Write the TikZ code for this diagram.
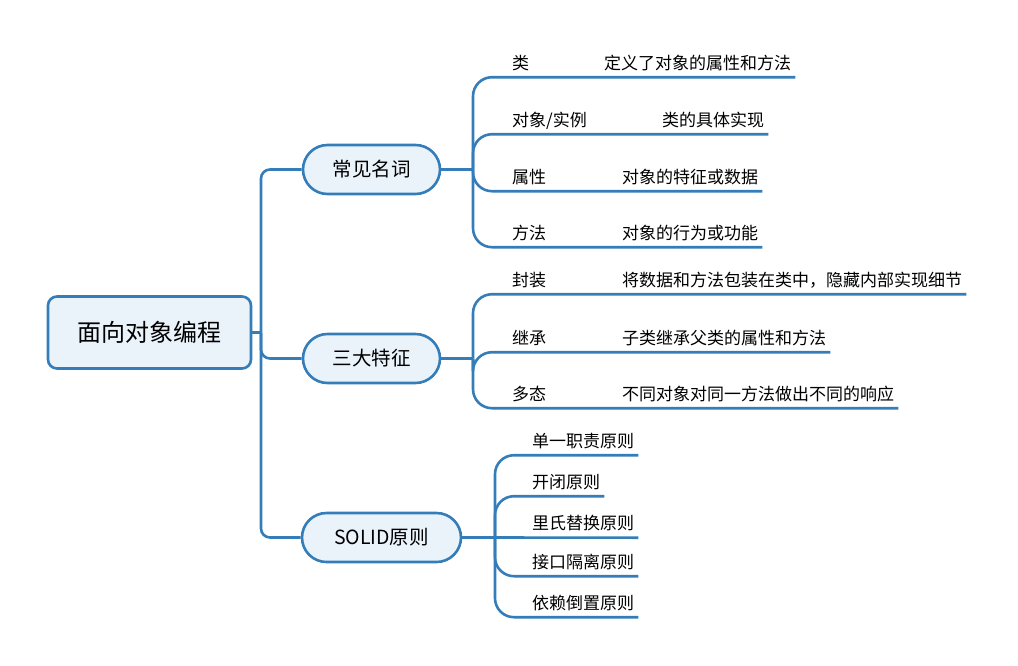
\documentclass[tikz,border=0pt]{standalone}
\usepackage{fontspec}
\setmainfont{Noto Sans CJK SC}
\usetikzlibrary{calc, positioning, shapes.misc}

\definecolor{mapblue}{RGB}{52,125,185}
\definecolor{mapfill}{RGB}{234,242,250}

\begin{document}
\begin{tikzpicture}[
            x=1pt, y=-1pt, % one unit = one pixel, y downwards
            root_style/.style={draw=mapblue, fill=mapfill, line width=2.6pt, rounded corners=9pt, minimum width=203pt, minimum height=72pt, font=\fontsize{24}{28}\selectfont},
            topic_style/.style={rounded rectangle, draw=mapblue, fill=mapfill, line width=2.6pt, minimum height=49pt, inner xsep=10pt, font=\fontsize{19.5}{23}\selectfont},
            leaf_style/.style={anchor=base west, inner xsep=4pt, inner ysep=6pt, text depth=2pt, font=\fontsize{17}{20}\selectfont},
            edge_style/.style={draw=mapblue, line width=2.6pt},
            trunk_style/.style={edge_style, rounded corners=9pt},
            twig_style/.style={edge_style, rounded corners=19pt}
        ]
        \useasboundingbox (0,0) rectangle (1018,665);

        % Root and the three topics
        \node[root_style] (root) at (149.5,332.5) {面向对象编程};
        \node[topic_style, minimum width=157pt] (terms) at (371.5,169.5) {常见名词};
        \node[topic_style, minimum width=157pt] (traits) at (371.5,358.5) {三大特征};
        \node[topic_style, minimum width=179pt] (solid) at (381.5,537.5) {SOLID原则};

        % Junctions on the trunks
        \coordinate (jr) at (261,332.5);
        \coordinate (j1) at (473,169.5);
        \coordinate (j2) at (473,358.5);
        \coordinate (j3) at (495,537.5);

        % Leaves of 常见名词
        \node[leaf_style] (t1) at (508,69) {类};
        \node[leaf_style] (t1d) at (600,69) {定义了对象的属性和方法};
        \node[leaf_style] (t2) at (508,126) {对象/实例};
        \node[leaf_style] (t2d) at (658,126) {类的具体实现};
        \node[leaf_style] (t3) at (508,183) {属性};
        \node[leaf_style] (t3d) at (618,183) {对象的特征或数据};
        \node[leaf_style] (t4) at (508,239) {方法};
        \node[leaf_style] (t4d) at (618,239) {对象的行为或功能};

        % Leaves of 三大特征
        \node[leaf_style] (f1) at (508,286) {封装};
        \node[leaf_style] (f1d) at (618,286) {将数据和方法包装在类中，隐藏内部实现细节};
        \node[leaf_style] (f2) at (508,344) {继承};
        \node[leaf_style] (f2d) at (618,344) {子类继承父类的属性和方法};
        \node[leaf_style] (f3) at (508,400) {多态};
        \node[leaf_style] (f3d) at (618,400) {不同对象对同一方法做出不同的响应};

        % Leaves of SOLID原则
        \node[leaf_style] (s1) at (528,447) {单一职责原则};
        \node[leaf_style] (s2) at (528,488) {开闭原则};
        \node[leaf_style] (s3) at (528,529.5) {里氏替换原则};
        \node[leaf_style] (s4) at (528,568) {接口隔离原则};
        \node[leaf_style] (s5) at (528,609) {依赖倒置原则};

        % Edges
        \draw[edge_style] (root.east) -- (jr);
        \foreach \v in {terms, traits, solid} { \draw[trunk_style] (jr) |- (\v.west); }

        \draw[edge_style] (terms.east) -- (j1);
        \foreach \v in {t1d, t2d, t3d, t4d} { \draw[twig_style] (j1) |- (\v.south east); }

        \draw[edge_style] (traits.east) -- (j2);
        \foreach \v in {f1d, f2d, f3d} { \draw[twig_style] (j2) |- (\v.south east); }

        \draw[edge_style] (solid.east) -- (j3);
        \foreach \v in {s1, s2, s4, s5} { \draw[twig_style] (j3) |- (\v.south east); }
        \draw[edge_style] (j3) -- (s3.south east);

    \end{tikzpicture}
\end{document}
